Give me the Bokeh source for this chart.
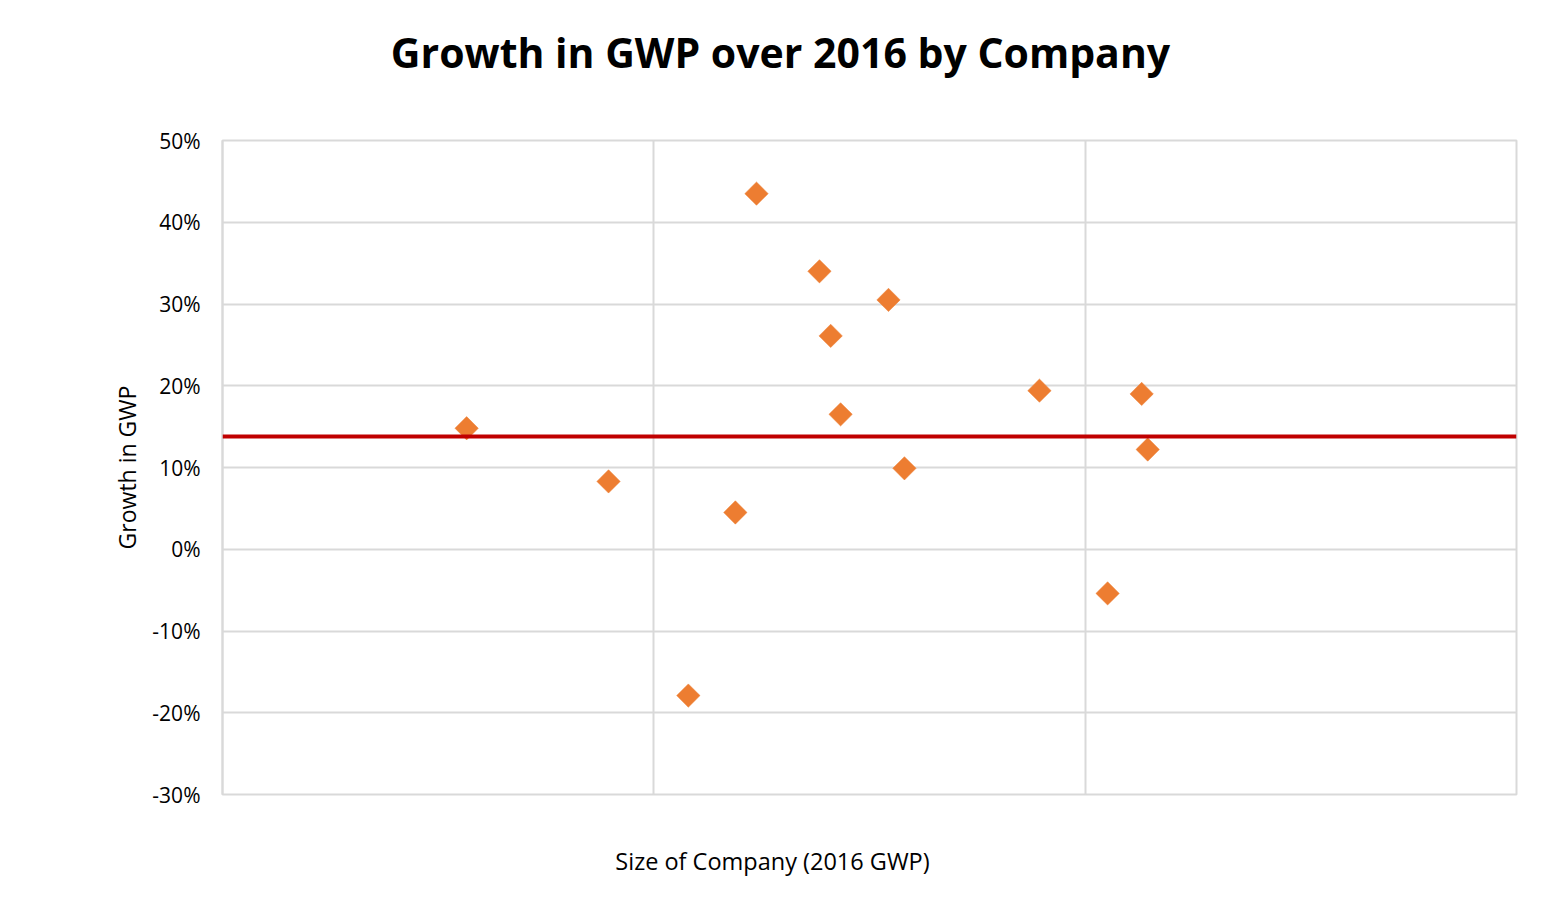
from bokeh.plotting import figure
from bokeh.layouts import column
from bokeh.models import ColumnDataSource, Span, Div, NumeralTickFormatter, FixedTicker, Range1d
from bokeh.embed import file_html
from bokeh.resources import INLINE

# Data (x: company size on an unlabelled scale, y: growth in GWP)
company_size = [0.566, 0.895, 1.080, 1.189, 1.238, 1.384, 1.410, 1.433, 1.544, 1.581, 1.894, 2.052, 2.131, 2.145]
gwp_growth = [0.148, 0.083, -0.179, 0.045, 0.435, 0.340, 0.261, 0.165, 0.305, 0.099, 0.194, -0.054, 0.190, 0.122]
average_growth = 0.138
y_ticks = [-0.3, -0.2, -0.1, 0.0, 0.1, 0.2, 0.3, 0.4, 0.5]
x_grid = [0, 1, 2, 3]
title_text = "Growth in GWP over 2016 by Company"
x_label = "Size of Company (2016 GWP)"
y_label = "Growth in GWP"

FONT = "Open Sans"
GRID = "#D9D9D9"

W = 1545
FL, FT, FR, FB = 222, 140, 1516, 794  # frame edges in page pixels
TITLE_H = 104
FIG_TOP = TITLE_H
FIG_BOTTOM = 810
LABEL_H = 90

title_div = Div(
    text=f'<div style="font-family:\'Open Sans\';font-size:41px;font-weight:bold;color:#000;'
         f'line-height:{TITLE_H}px;height:{TITLE_H}px;width:{W}px;text-align:center;'
         f'padding-left:16px;box-sizing:border-box;white-space:nowrap;">{title_text}</div>',
    width=W, height=TITLE_H, margin=0)

p = figure(width=W, height=FIG_BOTTOM - FIG_TOP, output_backend="svg", toolbar_location=None,
           x_range=Range1d(0, 3), y_range=Range1d(-0.3, 0.5),
           min_border_left=FL, min_border_right=W - FR,
           min_border_top=FT - FIG_TOP, min_border_bottom=FIG_BOTTOM - FB, margin=0)
p.title = None
p.background_fill_color = "white"
p.border_fill_color = "white"
p.outline_line_color = GRID
p.outline_line_width = 2

# x axis carries no labels in the reference: the frame outline draws its line
p.xaxis.visible = False

p.yaxis.ticker = FixedTicker(ticks=y_ticks)
p.yaxis.formatter = NumeralTickFormatter(format="0%")
p.yaxis.major_tick_line_color = None
p.yaxis.minor_tick_line_color = None
p.yaxis.axis_line_color = GRID
p.yaxis.axis_line_width = 2
p.yaxis.major_label_text_font = FONT
p.yaxis.major_label_text_font_size = "21px"
p.yaxis.major_label_text_color = "#000000"
p.yaxis.major_label_standoff = 16
p.yaxis.axis_label = y_label
p.yaxis.axis_label_text_font = FONT
p.yaxis.axis_label_text_font_size = "23px"
p.yaxis.axis_label_text_font_style = "normal"
p.yaxis.axis_label_text_color = "#000000"
p.yaxis.axis_label_standoff = 6

p.xgrid.ticker = FixedTicker(ticks=x_grid)
p.ygrid.ticker = FixedTicker(ticks=y_ticks)
p.xgrid.grid_line_color = GRID
p.ygrid.grid_line_color = GRID
p.xgrid.grid_line_width = 2
p.ygrid.grid_line_width = 2

src = ColumnDataSource(dict(x=company_size, y=gwp_growth))
p.add_layout(Span(location=average_growth, dimension="width", line_color="#C00000", line_width=4))
p.scatter("x", "y", source=src, marker="square", size=16.5, angle=0.785398,
          fill_color="#ED7D31", line_color="#ED7D31", line_width=0.5)

xlabel_div = Div(
    text=f'<div style="font-family:\'Open Sans\';font-size:23.5px;color:#000;'
         f'line-height:102px;height:{LABEL_H}px;width:{W}px;text-align:center;'
         f'white-space:nowrap;">{x_label}</div>',
    width=W, height=LABEL_H, margin=0)

layout = column(title_div, p, xlabel_div, spacing=0)

open("out.html", "w").write(file_html(layout, INLINE))
